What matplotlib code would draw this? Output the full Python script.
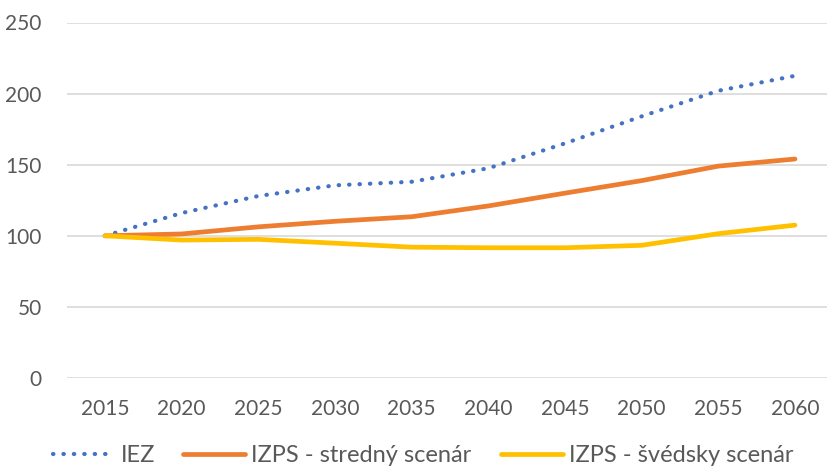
import matplotlib
matplotlib.use("Agg")
import matplotlib.pyplot as plt

years = ["2015", "2020", "2025", "2030", "2035", "2040", "2045", "2050", "2055", "2060"]
iez = [100, 116, 128, 135.5, 138, 147.5, 165, 184, 202, 212.5]
izps_stredny = [100, 101.3, 106.3, 110.2, 113.4, 121, 130, 138.8, 149, 154]
izps_svedsky = [100, 97, 97.5, 94.8, 92, 91.6, 91.6, 93.3, 101.5, 107.5]
labels = ["IEZ", "IZPS - stredný scenár", "IZPS - švédsky scenár"]

plt.rcParams['font.family'] = ['Lato', 'DejaVu Sans']
W, H = 828, 467
fig = plt.figure(figsize=(W / 100, H / 100), dpi=100)
left, right = 66.7, 833.3
top, bottom = 22.5, 378
ax = fig.add_axes([left / W, (H - bottom) / H, (right - left) / W, (bottom - top) / H])

x = list(range(len(years)))
l1, = ax.plot(x, iez, color="#4472C4", lw=3.0, linestyle=(0, (0.1, 2.4)),
              dash_capstyle='round', label=labels[0], zorder=3)
l2, = ax.plot(x, izps_stredny, color="#ED7D31", lw=3.4, solid_capstyle='round',
              label=labels[1], zorder=3)
l3, = ax.plot(x, izps_svedsky, color="#FFC000", lw=3.4, solid_capstyle='round',
              label=labels[2], zorder=3)

ax.set_xlim(-0.5, len(years) - 0.5)
ax.set_ylim(0, 250)
ax.set_yticks([0, 50, 100, 150, 200, 250])
ax.set_xticks(x)
ax.set_xticklabels(years)
ax.grid(axis='y', color="#D9D9D9", lw=1.2)
ax.set_axisbelow(True)
for s in ax.spines.values():
    s.set_visible(False)
ax.tick_params(axis='both', length=0, labelsize=15, labelcolor="#595959")
ax.tick_params(axis='x', pad=15)
ax.tick_params(axis='y', pad=18)

fs = 17
hl = 62 / (fs * 100 / 72)
for line, lab, xpx in zip([l1, l2, l3], labels, [53, 183, 501]):
    fig.legend([line], [lab], loc='center left', bbox_to_anchor=(xpx / W, (H - 456) / H),
               frameon=False, fontsize=fs, labelcolor="#595959", handlelength=hl,
               handletextpad=0.25, borderpad=0, borderaxespad=0)

fig.savefig("out.png", dpi=100)
